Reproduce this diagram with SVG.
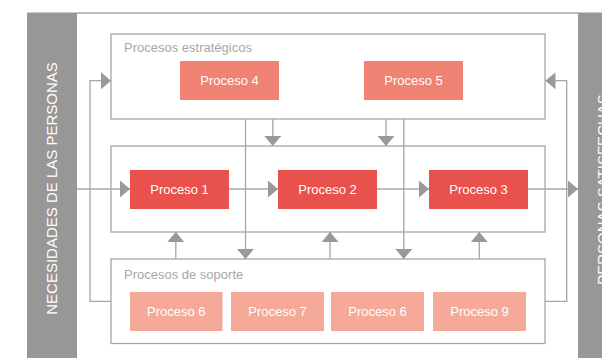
<svg xmlns="http://www.w3.org/2000/svg" width="602" height="358" viewBox="0 0 602 358">
<style>
  .frame{fill:#ffffff;stroke:#a6a6a6;stroke-width:1.3}
  .bar{fill:#979797}
  .bartext{font-family:"Liberation Sans",Arial,sans-serif;font-size:15px;fill:#ffffff;text-anchor:middle}
  .title{font-family:"Liberation Sans",Arial,sans-serif;font-size:13px;fill:#a8a8a8}
  .ptext{font-family:"Liberation Sans",Arial,sans-serif;font-size:13px;fill:#ffffff;text-anchor:middle}
  .strat{fill:#f08274}
  .core{fill:#e9514c}
  .supp{fill:#f4a999}
  .conn{fill:none;stroke:#a6a6a6;stroke-width:1.3;marker-end:url(#ah)}
  .plain{fill:none;stroke:#a6a6a6;stroke-width:1.3}
</style>
<defs>
  <marker id="ah" markerUnits="userSpaceOnUse" markerWidth="10" markerHeight="17" refX="10" refY="8.5" orient="auto">
    <path d="M0,0 L10,8.5 L0,17 Z" fill="#999999"/>
  </marker>
</defs>
<rect width="602" height="358" fill="#ffffff"/>
<g id="outer-frame">
  <line x1="77" y1="13" x2="578" y2="13" class="plain"/>
</g>
<g id="bar-left">
  <rect x="27" y="12.5" width="50" height="346" class="bar"/>
  <text class="bartext" transform="translate(56.5,188.5) rotate(-90)">NECESIDADES DE LAS PERSONAS</text>
</g>
<g id="bar-right">
  <rect x="578" y="12.5" width="24" height="346" class="bar"/>
  <text class="bartext" transform="translate(608,189.5) rotate(-90)">PERSONAS SATISFECHAS</text>
</g>
<g id="procesos-estrategicos">
  <rect x="111" y="34" width="434" height="85" class="frame"/>
  <text x="124" y="51.5" class="title">Procesos estratégicos</text>
</g>
<g id="procesos-clave">
  <rect x="111" y="146" width="434" height="86" class="frame"/>
</g>
<g id="procesos-soporte">
  <rect x="111" y="259" width="434" height="84.5" class="frame"/>
  <text x="124" y="279.3" class="title">Procesos de soporte</text>
</g>
<g id="connectors">
  <polyline points="111,301.3 90,301.3 90,80.7 111,80.7" class="conn"/>
  <polyline points="545,301.3 566.7,301.3 566.7,80.7 545.5,80.7" class="conn"/>
  <line x1="77" y1="189" x2="130" y2="189" class="conn"/>
  <line x1="229" y1="189" x2="278" y2="189" class="conn"/>
  <line x1="377" y1="189" x2="429" y2="189" class="conn"/>
  <line x1="528" y1="189" x2="578" y2="189" class="conn"/>
  <line x1="272.8" y1="119" x2="272.8" y2="146" class="conn"/>
  <line x1="386" y1="119" x2="386" y2="146" class="conn"/>
  <line x1="245.5" y1="119" x2="245.5" y2="259" class="conn"/>
  <line x1="403.8" y1="119" x2="403.8" y2="259" class="conn"/>
  <line x1="175.8" y1="259" x2="175.8" y2="232" class="conn"/>
  <line x1="330" y1="259" x2="330" y2="232" class="conn"/>
  <line x1="479.3" y1="259" x2="479.3" y2="232" class="conn"/>
</g>
<g id="proceso-4">
  <rect x="180" y="61" width="99" height="39" class="strat"/>
  <text x="229.5" y="85" class="ptext">Proceso 4</text>
</g>
<g id="proceso-5">
  <rect x="364" y="61" width="99" height="39" class="strat"/>
  <text x="413.5" y="85" class="ptext">Proceso 5</text>
</g>
<g id="proceso-1">
  <rect x="130" y="170" width="99" height="39" class="core"/>
  <text x="179.5" y="194" class="ptext">Proceso 1</text>
</g>
<g id="proceso-2">
  <rect x="278" y="170" width="99" height="39" class="core"/>
  <text x="327.5" y="194" class="ptext">Proceso 2</text>
</g>
<g id="proceso-3">
  <rect x="429" y="170" width="99" height="39" class="core"/>
  <text x="478.5" y="194" class="ptext">Proceso 3</text>
</g>
<g id="proceso-6a">
  <rect x="130" y="292" width="92.5" height="39" class="supp"/>
  <text x="176.3" y="316" class="ptext">Proceso 6</text>
</g>
<g id="proceso-7">
  <rect x="231" y="292" width="93" height="39" class="supp"/>
  <text x="277.5" y="316" class="ptext">Proceso 7</text>
</g>
<g id="proceso-6b">
  <rect x="331" y="292" width="93" height="39" class="supp"/>
  <text x="377.5" y="316" class="ptext">Proceso 6</text>
</g>
<g id="proceso-9">
  <rect x="433" y="292" width="93" height="39" class="supp"/>
  <text x="479.5" y="316" class="ptext">Proceso 9</text>
</g>
</svg>
